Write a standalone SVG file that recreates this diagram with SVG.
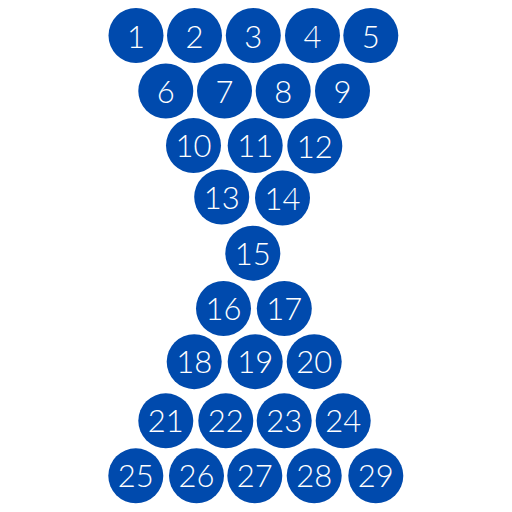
<svg xmlns="http://www.w3.org/2000/svg" width="512" height="512" viewBox="0 0 512 512">
<style>
.c{fill:#004aad}
.t{fill:#fff;font-family:Lato,"Noto Sans",sans-serif;font-size:31px;font-weight:300;text-anchor:middle}
</style>
<rect width="512" height="512" fill="#fff"/>
<g id="n1"><circle class="c" cx="136" cy="35.5" r="27.5"/><text class="t" x="136" y="47.5">1</text></g>
<g id="n2"><circle class="c" cx="194.5" cy="35.5" r="27.5"/><text class="t" x="194.5" y="47.5">2</text></g>
<g id="n3"><circle class="c" cx="253.3" cy="35.5" r="27.5"/><text class="t" x="253.3" y="47.5">3</text></g>
<g id="n4"><circle class="c" cx="312.5" cy="35.5" r="27.5"/><text class="t" x="312.5" y="47.5">4</text></g>
<g id="n5"><circle class="c" cx="370.8" cy="35.5" r="27.5"/><text class="t" x="370.8" y="47.5">5</text></g>
<g id="n6"><circle class="c" cx="165.8" cy="91" r="27.5"/><text class="t" x="165.8" y="102.5">6</text></g>
<g id="n7"><circle class="c" cx="224.5" cy="91" r="27.5"/><text class="t" x="224.5" y="102.5">7</text></g>
<g id="n8"><circle class="c" cx="283.2" cy="91" r="27.5"/><text class="t" x="283.2" y="102.5">8</text></g>
<g id="n9"><circle class="c" cx="342.5" cy="91" r="27.5"/><text class="t" x="342.5" y="102.5">9</text></g>
<g id="n10"><circle class="c" cx="193.5" cy="145.5" r="27.5"/><text class="t" x="193.5" y="157">10</text></g>
<g id="n11"><circle class="c" cx="255.2" cy="145.5" r="27.5"/><text class="t" x="255.2" y="157">11</text></g>
<g id="n12"><circle class="c" cx="314.8" cy="146" r="27.5"/><text class="t" x="314.8" y="157.5">12</text></g>
<g id="n13"><circle class="c" cx="221.7" cy="197" r="27.5"/><text class="t" x="221.7" y="208.5">13</text></g>
<g id="n14"><circle class="c" cx="282.5" cy="198" r="27.5"/><text class="t" x="282.5" y="209.5">14</text></g>
<g id="n15"><circle class="c" cx="252.8" cy="253.2" r="27.5"/><text class="t" x="252.8" y="264.7">15</text></g>
<g id="n16"><circle class="c" cx="223.5" cy="308.5" r="27.5"/><text class="t" x="223.5" y="320">16</text></g>
<g id="n17"><circle class="c" cx="284.3" cy="308.5" r="27.5"/><text class="t" x="284.3" y="320">17</text></g>
<g id="n18"><circle class="c" cx="194.2" cy="361.7" r="27.5"/><text class="t" x="194.2" y="373.2">18</text></g>
<g id="n19"><circle class="c" cx="255.2" cy="361.7" r="27.5"/><text class="t" x="255.2" y="373.2">19</text></g>
<g id="n20"><circle class="c" cx="314.2" cy="361.7" r="27.5"/><text class="t" x="314.2" y="373.2">20</text></g>
<g id="n21"><circle class="c" cx="165.8" cy="420.8" r="27.5"/><text class="t" x="165.8" y="432.3">21</text></g>
<g id="n22"><circle class="c" cx="225.8" cy="420.8" r="27.5"/><text class="t" x="225.8" y="432.3">22</text></g>
<g id="n23"><circle class="c" cx="284.2" cy="420.8" r="27.5"/><text class="t" x="284.2" y="432.3">23</text></g>
<g id="n24"><circle class="c" cx="343.2" cy="420.8" r="27.5"/><text class="t" x="343.2" y="432.3">24</text></g>
<g id="n25"><circle class="c" cx="135.8" cy="475.8" r="27.5"/><text class="t" x="135.8" y="487.3">25</text></g>
<g id="n26"><circle class="c" cx="196.5" cy="475.8" r="27.5"/><text class="t" x="196.5" y="487.3">26</text></g>
<g id="n27"><circle class="c" cx="254.8" cy="475.8" r="27.5"/><text class="t" x="254.8" y="487.3">27</text></g>
<g id="n28"><circle class="c" cx="314.2" cy="475.8" r="27.5"/><text class="t" x="314.2" y="487.3">28</text></g>
<g id="n29"><circle class="c" cx="375.8" cy="475.8" r="27.5"/><text class="t" x="375.8" y="487.3">29</text></g>
<g id="connectors"/>
</svg>
